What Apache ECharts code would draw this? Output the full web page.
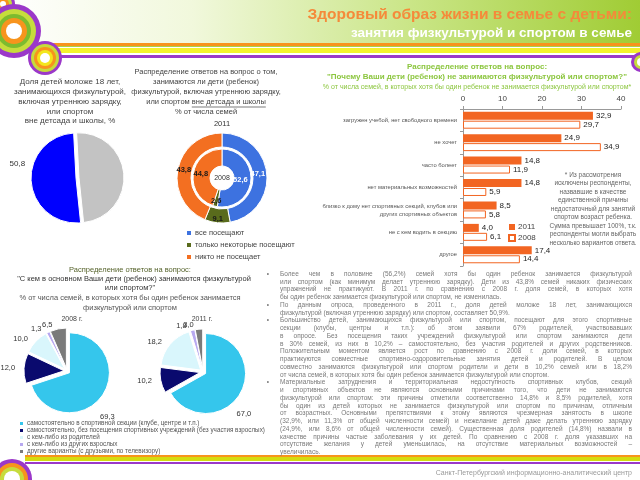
<!DOCTYPE html>
<html>
<head>
<meta charset="utf-8">
<script src="https://cdn.jsdelivr.net/npm/echarts@6/dist/echarts.min.js"></script>
<style>
html,body{margin:0;padding:0;background:#fff}
#main{width:640px;height:480px}
</style>
</head>
<body>
<div id="main"></div>
<script>
// доля детей, занимающихся физкультурой
const childShareNames = ['занимаются', 'не занимаются'];
const childShareValues = [50.8, 49.2];

// посещают ли секции
const attendNames = ['все посещают', 'только некоторые посещают', 'никто не посещает'];
const attend2011 = [47.1, 9.1, 43.8];
const attend2008 = [52.6, 2.6, 44.8];

// почему не занимаются
const reasonNames = [
  'загружен учебой, нет свободного времени',
  'не хочет',
  'часто болеет',
  'нет материальных возможностей',
  'близко к дому нет спортивных секций, клубов или\nдругих спортивных объектов',
  'не с кем водить в секцию',
  'другое'
];
const reasons2011 = [32.9, 24.9, 14.8, 14.8, 8.5, 4.0, 17.4];
const reasons2008 = [29.7, 34.9, 11.9, 5.9, 5.8, 6.1, 14.4];
const reasonTicks = [0, 10, 20, 30, 40];

// с кем занимаются
const withWhomNames = [
  'самостоятельно в спортивной секции (клубе, центре и т.п.)',
  'самостоятельно, без посещения спортивных учреждений (без участия взрослых)',
  'с кем-либо из родителей',
  'с кем-либо из других взрослых',
  'другие варианты (с друзьями, по телевизору)'
];
const withWhom2008 = [69.3, 12.0, 10.0, 1.3, 6.5];
const withWhom2011 = [67.0, 10.2, 18.2, 1.8, 3.0];
const withWhomColors = ['#35c6ec', '#0a0a6e', '#d9f6fc', '#b7a8f0', '#7a7a7a'];

const attendColors = ['#3d72e0', '#596b1c', '#f36f21'];
const attendLabelColors = ['#ffffff', '#1a1a1a', '#1a1a1a'];

const FONT = "'Liberation Sans', Arial, sans-serif";
const comma = v => Number(v).toFixed(1).replace('.', ',');

const ctx = document.createElement('canvas').getContext('2d');
function textWidth(s, font) { ctx.font = font; return ctx.measureText(s).width; }

function txt(x, y, s, size, color, opts) {
  opts = opts || {};
  return {
    type: 'text', x: x, y: y, silent: true, z: 10,
    style: {
      text: s,
      font: (opts.bold ? 'bold ' : '') + size + 'px ' + FONT,
      fill: color,
      textAlign: opts.align || 'center',
      textVerticalAlign: 'middle'
    }
  };
}
function ring(cx, cy, radii, colors) {
  return radii.map((r, i) => ({
    type: 'circle', silent: true, z: 5,
    shape: { cx: cx, cy: cy, r: r },
    style: { fill: colors[i] }
  }));
}

const purple = '#9b38c9', orange = '#f7941d', lime = '#c6dc3c', green = '#7dbb2f', yellow = '#f3e61c';

const graphics = [];
// шапка
graphics.push({
  type: 'rect', silent: true, z: 1,
  shape: { x: 0, y: 0, width: 640, height: 43 },
  style: { fill: new echarts.graphic.LinearGradient(0, 0, 1, 0, [
    { offset: 0, color: '#ffffff' }, { offset: 0.3, color: '#f1f8dc' },
    { offset: 0.65, color: '#c9e585' }, { offset: 1, color: '#a0cc34' }]) }
});
graphics.push({ type: 'rect', silent: true, z: 2, shape: { x: 40, y: 43, width: 600, height: 3 }, style: { fill: orange } });
graphics.push({ type: 'rect', silent: true, z: 2, shape: { x: 40, y: 46, width: 600, height: 1 }, style: { fill: '#a9d04a' } });
graphics.push({ type: 'rect', silent: true, z: 2, shape: { x: 40, y: 48, width: 600, height: 5 }, style: { fill: '#f4f22e' } });
graphics.push({ type: 'rect', silent: true, z: 2, shape: { x: 50, y: 55, width: 590, height: 3 }, style: { fill: purple } });
// низ
graphics.push({ type: 'rect', silent: true, z: 2, shape: { x: 25, y: 455, width: 615, height: 2 }, style: { fill: orange } });
graphics.push({ type: 'rect', silent: true, z: 2, shape: { x: 25, y: 457, width: 615, height: 4 }, style: { fill: '#d3dc10' } });
graphics.push({ type: 'rect', silent: true, z: 2, shape: { x: 25, y: 462, width: 615, height: 2 }, style: { fill: purple } });

graphics.push(...ring(3, 4, [12, 9, 6, 3], [purple, lime, orange, '#fff']));
graphics.push(...ring(14, 31, [27, 22, 17, 13, 8], [purple, lime, green, orange, '#fff']));
graphics.push(...ring(45, 58, [17, 14, 11, 8, 5], [purple, lime, orange, yellow, '#fff']));
graphics.push(...ring(641, 62, [10, 7, 4], [purple, lime, '#fff']));
graphics.push(...ring(12, 479, [20, 16, 12, 8], [purple, orange, lime, '#fff']));

graphics.push(txt(632, 15, 'Здоровый образ жизни в семье с детьми:', 15.5, '#f58a3a', { bold: true, align: 'right' }));
graphics.push(txt(632, 33, 'занятия физкультурой и спортом в семье', 13.5, '#ffffff', { bold: true, align: 'right' }));
graphics.push(txt(632, 473, 'Санкт-Петербургский информационно-аналитический центр', 7, '#9a9a9a', { align: 'right' }));

// заголовок круговой диаграммы 1
['Доля детей моложе 18 лет,', 'занимающихся физкультурой,', 'включая утреннюю зарядку,', 'или спортом', 'вне детсада и школы, %']
  .forEach((s, i) => graphics.push(txt(70, 82 + i * 9.8, s, 8, '#444')));

// заголовок кольцевой диаграммы
const donutTitle = ['Распределение ответов на вопрос о том,', 'занимаются ли дети (ребенок)',
  'физкультурой, включая утреннюю зарядку,', 'или спортом вне детсада и школы', '% от числа семей'];
donutTitle.forEach((s, i) => graphics.push(txt(206, 72 + i * 10, s, 7.5, '#444')));
(function () {
  const f = '7.5px ' + FONT;
  const full = textWidth(donutTitle[3], f);
  const tail = textWidth('вне детсада и школы', f);
  const x1 = 206 + full / 2;
  graphics.push({ type: 'line', silent: true, z: 10, shape: { x1: x1 - tail, y1: 107, x2: x1, y2: 107 }, style: { stroke: '#444', lineWidth: 0.7 } });
})();
graphics.push(txt(222, 124, '2011', 7.5, '#333'));
graphics.push(txt(222, 178, '2008', 7, '#333'));

// заголовок столбчатой диаграммы
graphics.push(txt(477, 67, 'Распределение ответов на вопрос:', 8, '#8cc63f', { bold: true }));
graphics.push(txt(477, 77, '"Почему Ваши дети (ребенок) не занимаются физкультурой или спортом?"', 8, '#8cc63f', { bold: true }));
graphics.push(txt(477, 87, '% от числа семей, в которых хотя бы один ребенок не занимается физкультурой или спортом*', 7, '#8cc63f'));
['* Из рассмотрения', 'исключены респонденты,', 'назвавшие в качестве', 'единственной причины',
  'недостаточный для занятий', 'спортом возраст ребенка.', 'Сумма превышает 100%, т.к.',
  'респонденты могли выбрать', 'несколько вариантов ответа.']
  .forEach((s, i) => graphics.push(txt(593, 175 + i * 8.5, s, 6.5, '#666')));

// заголовок нижних диаграмм
graphics.push(txt(130, 270, 'Распределение ответов на вопрос:', 7.5, '#55622a'));
graphics.push(txt(134, 279, '"С кем в основном Ваши дети (ребенок) занимаются физкультурой', 7.5, '#333'));
graphics.push(txt(130, 288, 'или спортом?"', 7.5, '#333'));
graphics.push(txt(130, 298, '% от числа семей, в которых хотя бы один ребенок занимается', 7.5, '#555'));
graphics.push(txt(130, 308, 'физкультурой или спортом', 7.5, '#555'));
graphics.push(txt(72, 319, '2008 г.', 7, '#444'));
graphics.push(txt(202, 319, '2011 г.', 7, '#444'));

// текст
const paragraphs = [
  ['Более чем в половине (56,2%) семей хотя бы один ребенок занимается физкультурой',
   'или спортом (как минимум делает утреннюю зарядку). Дети из 43,8% семей никаких физических',
   'упражнений не практикуют. В 2011 г. по сравнению с 2008 г. доля семей, в которых хотя',
   'бы один ребенок занимается физкультурой или спортом, не изменилась.'],
  ['По данным опроса, проведенного в 2011 г., доля детей моложе 18 лет, занимающихся',
   'физкультурой (включая утреннюю зарядку) или спортом, составляет 50,9%.'],
  ['Большинство детей, занимающихся физкультурой или спортом, посещают для этого спортивные',
   'секции (клубы, центры и т.п.): об этом заявили 67% родителей, участвовавших',
   'в опросе. Без посещения таких учреждений физкультурой или спортом занимаются дети',
   'в 30% семей, из них в 10,2% – самостоятельно, без участия родителей и других родственников.',
   'Положительным моментом является рост по сравнению с 2008 г. доли семей, в которых',
   'практикуются совместные спортивно-оздоровительные занятия детей и родителей. В целом',
   'совместно занимаются физкультурой или спортом родители и дети в 10,2% семей или в 18,2%',
   'от числа семей, в которых хотя бы один ребенок занимается физкультурой или спортом.'],
  ['Материальные затруднения и территориальная недоступность спортивных клубов, секций',
   'и спортивных объектов не являются основными причинами того, что дети не занимаются',
   'физкультурой или спортом: эти причины отметили соответственно 14,8% и 8,5% родителей, хотя',
   'бы один из детей которых не занимается физкультурой или спортом по причинам, отличным',
   'от возрастных. Основными препятствиями к этому являются чрезмерная занятость в школе',
   '(32,9%, или 11,3% от общей численности семей) и нежелание детей даже делать утреннюю зарядку',
   '(24,9%, или 8,6% от общей численности семей). Существенная доля родителей (14,8%) назвали в',
   'качестве причины частые заболевания у их детей. По сравнению с 2008 г. доля указавших на',
   'отсутствие желания у детей уменьшилась, на отсутствие материальных возможностей –',
   'увеличилась.']
];
(function () {
  const left = 280, right = 632, size = 6.5, color = '#7a7a7a';
  const f = size + 'px ' + FONT;
  let row = 0;
  paragraphs.forEach(p => {
    p.forEach((line, li) => {
      const y = 274 + row * 7.75;
      if (li === 0) graphics.push(txt(268, y, '•', size, color));
      if (li === p.length - 1) {
        graphics.push(txt(left, y, line, size, color, { align: 'left' }));
      } else {
        const words = line.split(' ');
        const widths = words.map(w => textWidth(w, f));
        const total = widths.reduce((a, b) => a + b, 0);
        const gap = Math.max(1, (right - left - total) / (words.length - 1));
        let x = left;
        words.forEach((w, wi) => {
          graphics.push(txt(x, y, w, size, color, { align: 'left' }));
          x += widths[wi] + gap;
        });
      }
      row++;
    });
  });
})();

function attendData(values) {
  return attendNames.map((n, i) => ({
    name: n, value: values[i],
    itemStyle: { color: attendColors[i] },
    label: { color: attendLabelColors[i] }
  }));
}
// подписи кольца сдвигаются внутрь, чтобы не выходить за край
const ringShift = p => p.dataIndex === 0 ? { dx: -5 } : (p.dataIndex === 2 ? { dx: 2 } : {});

const chart = echarts.init(document.getElementById('main'));
chart.setOption({
  animation: false,
  textStyle: { fontFamily: FONT },
  legend: [
    {
      data: attendNames, orient: 'vertical', left: 180, top: 224,
      itemWidth: 6, itemHeight: 6, itemGap: 4, icon: 'rect',
      textStyle: { fontSize: 7.5, color: '#444', padding: [0, 0, 0, -2] }
    },
    {
      data: ['2011', '2008'], orient: 'vertical', left: 503, top: 218,
      itemWidth: 6, itemHeight: 6, itemGap: 3, icon: 'rect',
      textStyle: { fontSize: 8, color: '#444', padding: [0, 0, 0, -2] }
    },
    {
      data: withWhomNames, orient: 'vertical', left: 18, top: 420, padding: 0,
      itemWidth: 5, itemHeight: 5, itemGap: 0, icon: 'rect',
      textStyle: { fontSize: 6.3, lineHeight: 6, color: '#555', padding: [0, 0, 0, -2] }
    }
  ],
  grid: { left: 463, top: 109, width: 158, height: 157 },
  xAxis: {
    type: 'value', position: 'top', min: 0, max: 40, interval: 10,
    axisLine: { show: true, lineStyle: { color: '#999' } },
    axisTick: { show: true, length: 3, lineStyle: { color: '#999' } },
    splitLine: { show: false },
    axisLabel: { fontSize: 8, color: '#444', margin: 6, formatter: v => reasonTicks.includes(v) ? String(v) : '' }
  },
  yAxis: {
    type: 'category', data: reasonNames, inverse: true,
    axisLine: { lineStyle: { color: '#999' } },
    axisTick: { show: true, length: 3, lineStyle: { color: '#999' } },
    axisLabel: { fontSize: 5.8, color: '#555', margin: 6, lineHeight: 8 }
  },
  graphic: { elements: graphics },
  series: [
    {
      type: 'pie', name: 'Доля детей', center: [76, 178], radius: 45,
      startAngle: 93, clockwise: false, selectedMode: 'multiple', selectedOffset: 3,
      itemStyle: { borderColor: '#fff', borderWidth: 1 },
      label: { show: true, position: 'outside', fontSize: 8, color: '#333', overflow: 'none', formatter: p => comma(p.value) },
      labelLine: { show: false, length: 4, length2: 0 },
      labelLayout: { dy: -18, dx: 3 },
      data: childShareNames.map((n, i) => ({
        name: n, value: childShareValues[i], selected: i === 1,
        itemStyle: { color: i === 0 ? '#0000ff' : '#c3c3c3' },
        label: { show: i === 0 }
      }))
    },
    {
      type: 'pie', name: 'Посещение 2008', center: [222, 178], radius: [12, 29],
      startAngle: 90,
      itemStyle: { borderColor: '#fff', borderWidth: 1 },
      label: { show: true, position: 'inside', fontSize: 7.5, fontWeight: 'bold', overflow: 'none', formatter: p => comma(p.value) },
      labelLayout: ringShift,
      data: attendData(attend2008)
    },
    {
      type: 'pie', name: 'Посещение 2011', center: [222, 178], radius: [31, 45],
      startAngle: 90,
      itemStyle: { borderColor: '#fff', borderWidth: 1 },
      label: { show: true, position: 'inside', fontSize: 7.5, fontWeight: 'bold', overflow: 'none', formatter: p => comma(p.value) },
      labelLayout: ringShift,
      data: attendData(attend2011)
    },
    {
      type: 'bar', name: '2011', data: reasons2011, barWidth: 8, barGap: '12%',
      itemStyle: { color: '#f26522' },
      label: { show: true, position: 'right', distance: 3, fontSize: 8, color: '#222', formatter: p => comma(p.value) }
    },
    {
      type: 'bar', name: '2008', data: reasons2008, barWidth: 8,
      itemStyle: { color: '#ffffff', borderColor: '#f26522', borderWidth: 1 },
      label: { show: true, position: 'right', distance: 3, fontSize: 8, color: '#222', formatter: p => comma(p.value) }
    },
    {
      type: 'pie', name: 'С кем 2008', center: [67, 371], radius: 40,
      startAngle: 90, selectedMode: 'multiple', selectedOffset: 3, avoidLabelOverlap: false,
      itemStyle: { borderColor: '#fff', borderWidth: 1 },
      label: { show: true, position: 'outside', fontSize: 7.5, color: '#333', overflow: 'none', formatter: p => comma(p.value) },
      labelLine: { show: false, length: 4, length2: 0 },
      labelLayout: p => p.dataIndex === 0 ? { dx: -10, dy: 18 } : {},
      data: withWhomNames.map((n, i) => ({ name: n, value: withWhom2008[i], selected: true, itemStyle: { color: withWhomColors[i] } }))
    },
    {
      type: 'pie', name: 'С кем 2011', center: [203, 372], radius: 40,
      startAngle: 90, selectedMode: 'multiple', selectedOffset: 3, avoidLabelOverlap: false,
      itemStyle: { borderColor: '#fff', borderWidth: 1 },
      label: { show: true, position: 'outside', fontSize: 7.5, color: '#333', overflow: 'none', formatter: p => comma(p.value) },
      labelLine: { show: false, length: 4, length2: 0 },
      labelLayout: p => p.dataIndex === 0 ? { dx: -12, dy: 18 } : {},
      data: withWhomNames.map((n, i) => ({ name: n, value: withWhom2011[i], selected: true, itemStyle: { color: withWhomColors[i] } }))
    }
  ]
});
</script>
</body>
</html>
